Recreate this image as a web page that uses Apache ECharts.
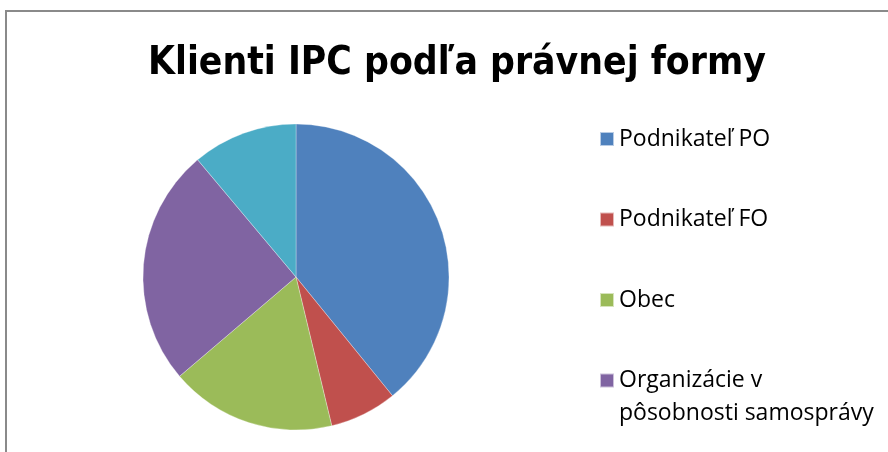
<!DOCTYPE html>
<html>
<head>
<meta charset="utf-8">
<script src="https://cdn.jsdelivr.net/npm/echarts@6/dist/echarts.min.js"></script>
<style>
  html, body { margin: 0; padding: 0; background: #fff; }
  #main { width: 888px; height: 452px; }
</style>
</head>
<body>
<div id="main"></div>
<script>
// údaje odčítané z grafu (podiel v %)
var categories = ['Podnikateľ PO', 'Podnikateľ FO', 'Obec', 'Organizácie v\npôsobnosti samosprávy', 'Ostatné'];
var values = [39.1, 7.1, 17.5, 25.1, 11.1];
var colors = ['#4F81BD', '#C0504D', '#9BBB59', '#8064A2', '#4BACC6'];
// piata položka je v legende odrezaná
var legendTop = categories.slice(0, 3);
var legendBottom = categories.slice(3, 4);

var chartDom = document.getElementById('main');
var myChart = echarts.init(chartDom);

var pieData = categories.map(function (name, i) {
  return { name: name, value: values[i], itemStyle: { color: colors[i] } };
});

var legendText = {
  fontFamily: '"Open Sans", sans-serif',
  fontSize: 23,
  color: '#000'
};

var option = {
  animation: false,
  title: {
    text: 'Klienti IPC podľa právnej formy',
    left: 143,
    top: 39,
    textStyle: {
      fontFamily: '"DejaVu Sans Condensed", "DejaVu Sans", sans-serif',
      fontWeight: 'bold',
      fontSize: 38.7,
      color: '#000'
    }
  },
  legend: [
    {
      orient: 'vertical',
      left: 599,
      top: 125,
      padding: 0,
      itemWidth: 14,
      itemHeight: 14,
      itemGap: 52.5,
      icon: 'rect',
      selectedMode: false,
      data: legendTop,
      textStyle: Object.assign({ lineHeight: 28 }, legendText)
    },
    {
      // dvojriadková položka: prvý riadok zarovnaný so štvorčekom
      orient: 'vertical',
      left: 599,
      top: 331,
      padding: 0,
      itemWidth: 14,
      itemHeight: 14,
      icon: 'rect',
      selectedMode: false,
      data: legendBottom,
      formatter: function (name) { return '\n' + name; },
      textStyle: Object.assign({ lineHeight: 33 }, legendText)
    }
  ],
  graphic: [
    {
      type: 'polyline',
      shape: { points: [[6, 452], [6, 11], [888, 11]] },
      style: { stroke: '#8a8a8a', lineWidth: 2, fill: null },
      silent: true
    }
  ],
  series: [
    {
      name: 'Klienti IPC',
      type: 'pie',
      center: [296, 277],
      radius: 153,
      startAngle: 90,
      clockwise: true,
      label: { show: false },
      labelLine: { show: false },
      itemStyle: { borderColor: 'rgba(255,255,255,0.6)', borderWidth: 0.5 },
      emphasis: { disabled: true },
      data: pieData
    }
  ]
};

myChart.setOption(option);
</script>
</body>
</html>
